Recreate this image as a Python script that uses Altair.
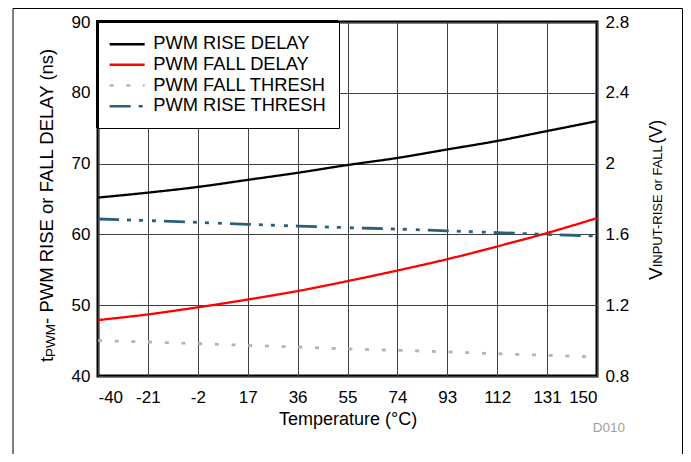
import altair as alt
import pandas as pd

temps = [-40, -21, -2, 17, 36, 55, 74, 93, 112, 131, 150]
rise_delay = [65.2, 65.9, 66.7, 67.7, 68.7, 69.8, 70.8, 72.0, 73.2, 74.6, 76.0]
fall_delay = [47.9, 48.7, 49.7, 50.8, 52.0, 53.4, 54.9, 56.5, 58.3, 60.2, 62.3]
fall_thresh = [1.000, 0.992, 0.983, 0.973, 0.964, 0.953, 0.945, 0.936, 0.926, 0.917, 0.907]
rise_thresh = [1.687, 1.678, 1.668, 1.657, 1.647, 1.638, 1.630, 1.620, 1.610, 1.600, 1.591]

series = ["PWM RISE DELAY", "PWM FALL DELAY", "PWM FALL THRESH", "PWM RISE THRESH"]
colors = ["#000000", "#ff0000", "#b4b4b4", "#2c6078"]
dashes = [[1, 0], [1, 0], [4, 12.7], [21, 8, 4, 8, 4, 9, 4, 8]]
left_ticks = [40, 50, 60, 70, 80, 90]
right_ticks = [0.8, 1.2, 1.6, 2.0, 2.4, 2.8]

FONT = "Liberation Sans"

df_delay = pd.DataFrame({
    "temp": temps * 2,
    "value": rise_delay + fall_delay,
    "series": [series[0]] * len(temps) + [series[1]] * len(temps),
})
df_thresh = pd.DataFrame({
    "temp": temps * 2,
    "value": fall_thresh + rise_thresh,
    "series": [series[2]] * len(temps) + [series[3]] * len(temps),
})

legend = alt.Legend(
    title=None, orient="top-left", offset=0,
    strokeColor="black", fillColor="white", padding=13,
    symbolType="M-2.5,0H2.5", symbolSize=196, symbolStrokeWidth=2.5,
    symbolOffset=7, labelOffset=17,
    labelFont=FONT, labelFontSize=18.3, labelColor="black",
    rowPadding=1.7, labelLimit=400,
)

color = alt.Color("series:N", scale=alt.Scale(domain=series, range=colors), legend=legend)
dash = alt.StrokeDash("series:N", scale=alt.Scale(domain=series, range=dashes), legend=legend)

x = alt.X("temp:Q", scale=alt.Scale(domain=[-40, 150], nice=False, zero=False),
          axis=alt.Axis(values=temps, labelExpr="'' + datum.value", title="Temperature (°C)",
                        labelPadding=13, titlePadding=5, grid=True))

left = alt.Chart(df_delay).mark_line(strokeWidth=2.3, interpolate="monotone").encode(
    x=x,
    y=alt.Y("value:Q", scale=alt.Scale(domain=[40, 90], nice=False, zero=False),
            axis=alt.Axis(orient="left", values=left_ticks, format="d", title=None,
                          labelPadding=8, grid=True)),
    color=color, strokeDash=dash, order=alt.Order("temp:Q"),
)

right = alt.Chart(df_thresh).mark_line(strokeWidth=2.8, interpolate="monotone").encode(
    x=x,
    y=alt.Y("value:Q", scale=alt.Scale(domain=[0.8, 2.8], nice=False, zero=False),
            axis=alt.Axis(orient="right", values=right_ticks, format="~g", title=None,
                          labelPadding=8, grid=False)),
    color=color, strokeDash=dash, order=alt.Order("temp:Q"),
)

one = pd.DataFrame({"a": [0]})

def txt(s, px, py, size, color="black", angle=270, align="left"):
    return alt.Chart(one).mark_text(text=s, font=FONT, fontSize=size, color=color,
                                    angle=angle, align=align, baseline="alphabetic").encode(
        x=alt.value(px), y=alt.value(py))

titles = [
    txt("t", -45, 340, 18.5),
    txt("PWM", -43, 334.9, 13.5),
    txt(" - PWM RISE or FALL DELAY (ns)", -45, 301.9, 18.5),
    txt("V", 564, 258, 19),
    txt("INPUT-RISE or FALL", 564, 245.3, 13),
    txt(" (V)", 564, 121.8, 18),
    txt("D010", 511, 410, 13.5, color="#a0a0a0", angle=0, align="center"),
]

def rule(x1, x2, y1, y2):
    return alt.Chart(one).mark_rule(color="black", strokeWidth=1).encode(
        x=alt.value(x1), x2=alt.value(x2), y=alt.value(y1), y2=alt.value(y2))

frame = [
    rule(-85, 584.5, -13.5, -13.5),
    rule(-85, -85, -13.5, 432),
    rule(584.5, 584.5, -13.5, 432),
]

legend_border = alt.Chart(one).mark_rect(fill=None, stroke="black", strokeWidth=4).encode(
    x=alt.value(0), x2=alt.value(238), y=alt.value(0), y2=alt.value(104))

chart = alt.layer(left, right, legend_border, *titles, *frame).resolve_scale(y="independent").properties(
    width=499, height=354,
    padding={"left": 90, "top": 14, "right": 86, "bottom": 78},
    autosize=alt.AutoSizeParams(type="none"),
).configure_view(stroke="black", strokeWidth=3).configure_axis(
    labelFont=FONT, labelFontSize=17, labelColor="black",
    titleFont=FONT, titleFontSize=18, titleColor="black", titleFontWeight="normal",
    ticks=False, domain=False, gridColor="#404040", gridWidth=1, gridOpacity=1,
)

chart.save("out.html", embed_options={"renderer": "svg", "actions": False})
